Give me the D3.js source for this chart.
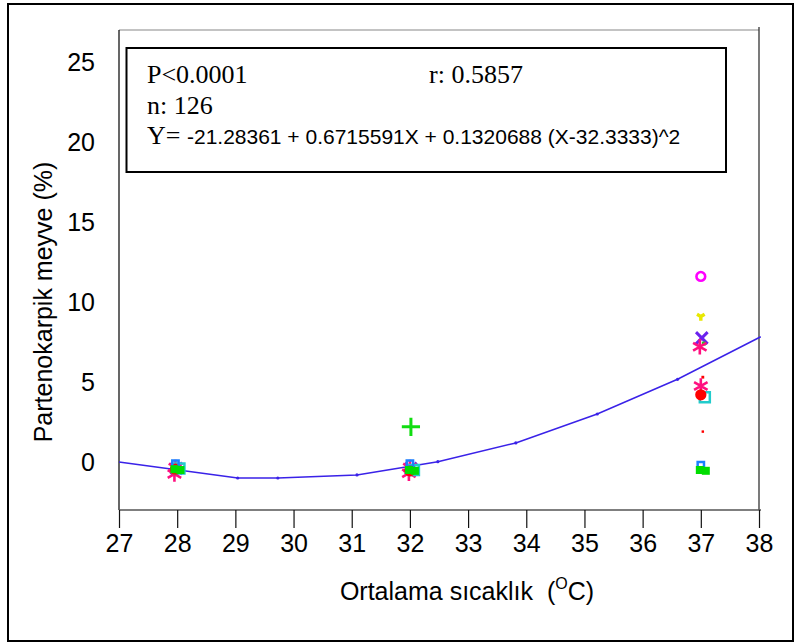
<!DOCTYPE html>
<html><head><meta charset="utf-8">
<script src="https://cdn.jsdelivr.net/npm/d3@7"></script>
<style>body{margin:0;background:#fff}svg{display:block}</style>
</head><body><svg id="c" width="794" height="643"></svg>
<script>
// ---- data ----
const xTicks = [27,28,29,30,31,32,33,34,35,36,37,38];
const yTicks = [0,5,10,15,20,25];
// fitted curve
const curveX = [27, 29.04, 29.73, 31.09, 32.48, 33.82, 35.22, 36.6, 38.03];
const curveY = [0.0, -1.0, -1.0, -0.81, 0.02, 1.19, 3.0, 5.17, 7.83];
// scatter series: x positions and values
const temps = [27.97, 32.0, 37.0];
const magentaCircle = [-0.5, -0.5, 11.6];
const yellowWye = [-0.45, -0.5, 9.1];
const purpleTimes = [-0.4, -0.4, 7.75];
const greenDot = [-0.4, -0.45, 7.4];
const cyanSquare = [-0.4, -0.5, 4.05];
const redCircle = [-0.45, -0.55, 4.2];
const redDot = [-0.5, -0.6, 5.3];
const redDot2 = [null, null, 1.9];
const blueSquare = [-0.1, -0.1, -0.2];
const greenSquare = [-0.5, -0.55, -0.55];
const greenSquare2 = [-0.45, -0.5, -0.5];
const pinkAsterisk = [-0.75, -0.7, 7.2];
const pinkAsterisk2 = [-0.35, -0.35, 4.75];
const greenPlus = [null, 2.2, null];
const statsLine1 = "P<0.0001";
const statsR = "r: 0.5857";
const statsN = "n: 126";
const eqLead = "Y= ";
const eqBody = "-21.28361 + 0.6715591X + 0.1320688 (X-32.3333)^2";

const svg = d3.select("#c");
const x = d3.scaleLinear().domain([27,38]).range([119,759]);
const y = d3.scaleLinear().domain([-3,27]).range([510,30]);

// outer frame
svg.append("rect").attr("x",8).attr("y",4).attr("width",785).attr("height",637)
  .attr("fill","none").attr("stroke","#000").attr("stroke-width",2);

// plot frame
svg.append("line").attr("x1",119).attr("x2",759).attr("y1",30).attr("y2",30).attr("stroke","#888").attr("stroke-width",1.2);
svg.append("line").attr("x1",759).attr("x2",759).attr("y1",27).attr("y2",510).attr("stroke","#333").attr("stroke-width",1.3);
svg.append("line").attr("x1",119).attr("x2",119).attr("y1",30).attr("y2",510).attr("stroke","#000").attr("stroke-width",1.2);

// x axis
const xAxis = d3.axisBottom(x).tickValues(xTicks).tickSize(18).tickPadding(6).tickFormat(d3.format("d"));
const gx = svg.append("g").attr("transform","translate(0,510)").call(xAxis);
gx.select(".domain").attr("stroke","#555").attr("stroke-width",1.6).attr("d","M119,0H761");
gx.selectAll(".tick line").attr("stroke","#111").attr("stroke-width",1.2);
gx.selectAll(".tick text").attr("font-family","'Liberation Sans', Arial, sans-serif").attr("font-size",25).attr("fill","#000");

// y axis labels (no ticks)
const yAxis = d3.axisLeft(y).tickValues(yTicks).tickSize(0).tickPadding(24);
const gy = svg.append("g").attr("transform","translate(119,0)").call(yAxis);
gy.select(".domain").remove();
gy.selectAll(".tick text").attr("font-family","'Liberation Sans', Arial, sans-serif").attr("font-size",25).attr("fill","#000");

// axis titles
svg.append("text").attr("transform","translate(52,302) rotate(-90)").attr("text-anchor","middle")
  .attr("font-family","'Liberation Sans', Arial, sans-serif").attr("font-size",25).text("Partenokarpik meyve (%)");
const xt = svg.append("text").attr("x",467).attr("y",600).attr("text-anchor","middle")
  .attr("font-family","'Liberation Sans', Arial, sans-serif").attr("font-size",25);
xt.append("tspan").text("Ortalama sıcaklık \u00a0(");
xt.append("tspan").attr("font-size",16).attr("dy",-11).text("O");
xt.append("tspan").attr("dy",11).text("C)");

// stats box
svg.append("rect").attr("x",126.5).attr("y",48).attr("width",599.5).attr("height",124)
  .attr("fill","#fff").attr("stroke","#000").attr("stroke-width",2);
const serif = "'Liberation Serif', 'Times New Roman', serif";
svg.append("text").attr("x",147).attr("y",83).attr("font-family",serif).attr("font-size",26).text(statsLine1);
svg.append("text").attr("x",429).attr("y",83).attr("font-family",serif).attr("font-size",26).text(statsR);
svg.append("text").attr("x",147).attr("y",114).attr("font-family",serif).attr("font-size",26).text(statsN);
const eq = svg.append("text").attr("x",147).attr("y",144);
eq.append("tspan").attr("font-family",serif).attr("font-size",26).text(eqLead);
eq.append("tspan").attr("font-family","'Liberation Sans', Arial, sans-serif").attr("font-size",21).text(eqBody);

// curve
const line = d3.line().x(d=>x(d[0])).y(d=>y(d[1]));
svg.append("path").datum(d3.zip(curveX,curveY)).attr("d",line)
  .attr("fill","none").attr("stroke","#3a22e8").attr("stroke-width",1.5);
svg.selectAll("circle.v").data(d3.zip(curveX,curveY).slice(1,-1)).join("circle")
  .attr("cx",d=>x(d[0])).attr("cy",d=>y(d[1])).attr("r",1.6).attr("fill","#3a22e8");

// scatter
function plot(vals, sym, size, fill, stroke, sw, dx, rot){
  const pts = d3.zip(temps, vals).filter(d=>d[1]!==null);
  svg.append("g").selectAll("path").data(pts).join("path")
    .attr("d", d3.symbol().type(sym).size(size))
    .attr("transform", d=>`translate(${x(d[0])+(dx||0)},${y(d[1])}) rotate(${rot||0})`)
    .attr("fill", fill).attr("stroke", stroke).attr("stroke-width", sw);
}
plot(magentaCircle, d3.symbolCircle, 60, "none", "#ff00ff", 2.6, 0);
plot(yellowWye, d3.symbolWye, 40, "#e8e800", "none", 0, 0);
plot(purpleTimes, d3.symbolTimes, 90, "none", "#6a22ee", 3, 1);
plot(greenDot, d3.symbolSquare, 16, "#22cc22", "none", 0, 3);
plot(redDot, d3.symbolSquare, 8, "#ff0000", "none", 0, 2);
plot(redDot2, d3.symbolSquare, 6, "#ff0000", "none", 0, 2);
plot(pinkAsterisk, d3.symbolAsterisk, 170, "none", "#ff1080", 2.6, -1);
plot(pinkAsterisk2, d3.symbolAsterisk, 170, "none", "#ff1080", 2.6, 0);
plot(cyanSquare, d3.symbolSquare, 100, "none", "#22cccc", 2.5, 4);
plot(redCircle, d3.symbolCircle, 100, "#ff0000", "none", 0, 0);
plot(blueSquare, d3.symbolSquare, 40, "none", "#1a80ff", 2.5, 0);
plot(greenSquare2, d3.symbolSquare, 64, "#00dd00", "none", 0, -1);
plot(greenSquare, d3.symbolSquare, 64, "#00dd00", "none", 0, 5);
plot(greenPlus, d3.symbolPlus, 110, "none", "#11dd11", 3, 1);
</script></body></html>
